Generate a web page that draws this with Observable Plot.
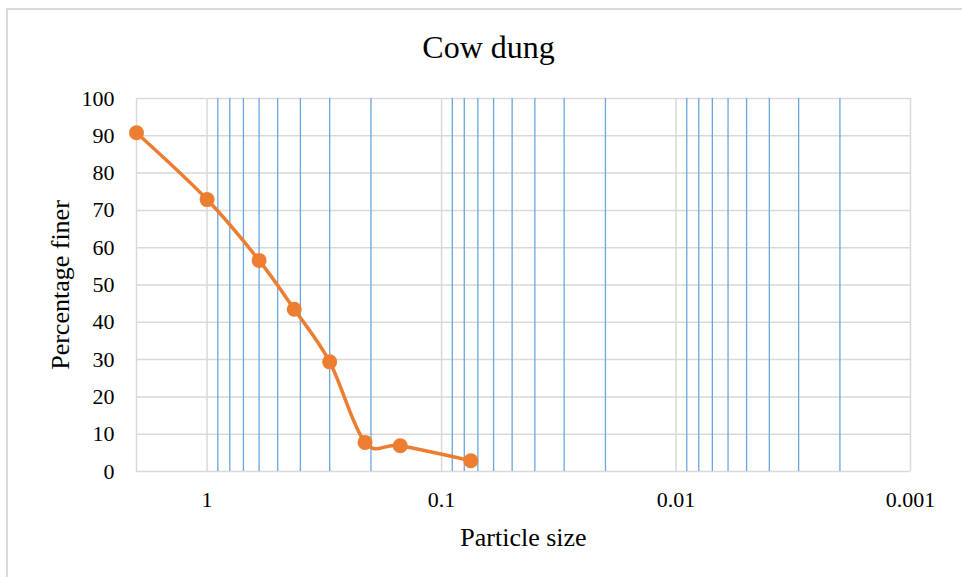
<!DOCTYPE html>
<html>
<head>
<meta charset="utf-8">
<script src="https://cdn.jsdelivr.net/npm/d3@7"></script>
<script src="https://cdn.jsdelivr.net/npm/@observablehq/plot@0.6"></script>
<style>
  html, body { margin: 0; padding: 0; background: #fff; overflow: hidden; }
  #wrap { position: relative; width: 962px; height: 577px; }
  #border { position: absolute; left: 6px; top: 8px; width: 980px; height: 600px; border: 2px solid #d9d9d9; box-sizing: border-box; pointer-events: none; }
  #chart { position: absolute; left: 0; top: 0; }
</style>
</head>
<body>
<div id="wrap"><div id="border"></div><div id="chart"></div></div>
<script>
const title = "Cow dung";
const xLabel = "Particle size";
const yLabel = "Percentage finer";
// sieve sizes (mm) and percentage finer
const particleSize = [2, 1, 0.6, 0.425, 0.3, 0.212, 0.15, 0.075];
const percentFiner = [90.8, 72.9, 56.6, 43.5, 29.4, 7.8, 6.9, 2.9];
const xMajorTicks = [1, 0.1, 0.01, 0.001];
const xMinorTicks = [0.9, 0.8, 0.7, 0.6, 0.5, 0.4, 0.3, 0.2,
                     0.09, 0.08, 0.07, 0.06, 0.05, 0.04, 0.03, 0.02,
                     0.009, 0.008, 0.007, 0.006, 0.005, 0.004, 0.003, 0.002];
const yTicks = [0, 10, 20, 30, 40, 50, 60, 70, 80, 90, 100];

const data = particleSize.map((s, i) => ({size: s, finer: percentFiner[i]}));
const grey = "#d9d9d9";
const blue = "#6aa6de";
const orange = "#ed7d31";

const chart = Plot.plot({
  width: 962,
  height: 577,
  marginLeft: 136,
  marginRight: 52,
  marginTop: 98,
  marginBottom: 106,
  style: {fontFamily: "'Liberation Serif', 'Times New Roman', serif", color: "#000", background: "transparent"},
  x: {type: "log", domain: [2, 0.001]},
  y: {domain: [0, 100]},
  marks: [
    Plot.gridY(yTicks, {stroke: grey, strokeOpacity: 1, strokeWidth: 1.5}),
    Plot.ruleX([2], {stroke: grey, strokeWidth: 1.5}),
    Plot.gridX(xMajorTicks, {stroke: grey, strokeOpacity: 1, strokeWidth: 1.5}),
    Plot.ruleX(xMinorTicks, {stroke: blue, strokeWidth: 1.3}),
    Plot.axisY(yTicks, {tickSize: 0, tickPadding: 22, fontSize: 22, label: null, tickFormat: d => String(d)}),
    Plot.axisX(xMajorTicks, {tickSize: 0, tickPadding: 20, fontSize: 22, label: null, tickFormat: d => String(d)}),
    Plot.line(data, {x: "size", y: "finer", stroke: orange, strokeWidth: 3.5, curve: "cardinal", tension: 0}),
    Plot.dot(data, {x: "size", y: "finer", r: 7.5, fill: orange, stroke: "none"}),
    Plot.text([title], {frameAnchor: "top", dx: -35, dy: -51, fontSize: 32, lineAnchor: "middle", fill: "#000"}),
    Plot.text([xLabel], {frameAnchor: "bottom", dy: 66, fontSize: 26, lineAnchor: "middle", fill: "#000"}),
    Plot.text([yLabel], {frameAnchor: "left", dx: -76, rotate: -90, textAnchor: "middle", fontSize: 26, lineAnchor: "middle", fill: "#000"})
  ]
});
document.getElementById("chart").appendChild(chart);
</script>
</body>
</html>
